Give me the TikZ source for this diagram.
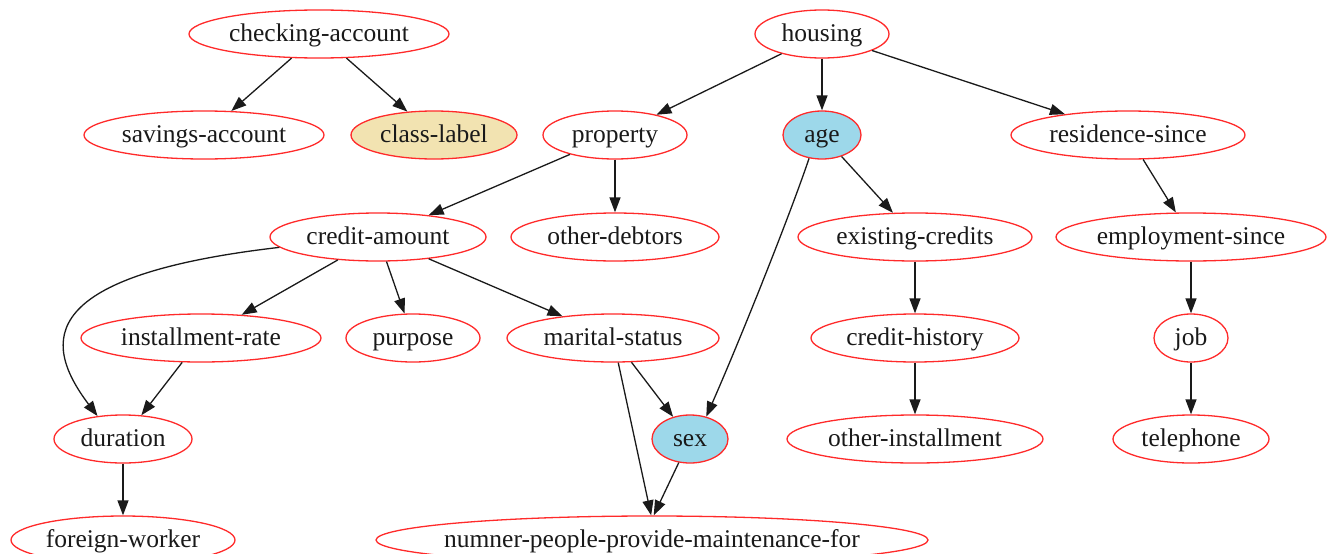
\documentclass[tikz,border=0pt]{standalone}
\usepackage{fontspec}
\setmainfont{Liberation Serif}
\usetikzlibrary{shapes.geometric,arrows.meta}
\definecolor{nodered}{HTML}{FF2A2A}
\definecolor{wheatfill}{HTML}{F2E3B1}
\definecolor{bluefill}{HTML}{9DD8EA}
\definecolor{edgecol}{HTML}{1A1A1A}
\begin{document}
\begin{tikzpicture}[x=1pt,y=-1pt,
  nd/.style={ellipse,draw=nodered,line width=1.3pt,inner sep=0pt,minimum height=48pt,
    text height=17pt,text depth=3pt,
    font=\fontsize{25.5}{29}\selectfont,text=black!90},
  wheatnd/.style={nd,fill=wheatfill},
  bluend/.style={nd,fill=bluefill},
  ed/.style={draw=edgecol,line width=1.3pt,-{Triangle[length=15pt,width=11pt]}}]
\useasboundingbox (0,0) rectangle (1328,554);
\clip (0,0) rectangle (1328,554);
% row 1
\node[nd,minimum width=260pt] (chk) at (319,34) {checking-account};
\node[nd,minimum width=134pt] (hou) at (822,34) {housing};
% row 2
\node[nd,minimum width=240pt] (sav) at (204,135) {savings-account};
\node[wheatnd,minimum width=166pt] (cls) at (434,135) {class-label};
\node[nd,minimum width=144pt] (pro) at (615,135) {property};
\node[bluend,minimum width=78pt] (age) at (822,135) {age};
\node[nd,minimum width=234pt] (res) at (1128,135) {residence-since};
% row 3
\node[nd,minimum width=216pt] (cre) at (378,237) {credit-amount};
\node[nd,minimum width=208pt] (oth) at (615,237) {other-debtors};
\node[nd,minimum width=234pt] (exi) at (915,237) {existing-credits};
\node[nd,minimum width=270pt] (emp) at (1191,237) {employment-since};
% row 4
\node[nd,minimum width=240pt] (ins) at (201,338) {installment-rate};
\node[nd,minimum width=134pt] (pur) at (413,338) {purpose};
\node[nd,minimum width=212pt] (mar) at (613,338) {marital-status};
\node[nd,minimum width=208pt] (his) at (915,338) {credit-history};
\node[nd,minimum width=74pt] (job) at (1191,338) {job};
% row 5
\node[nd,minimum width=138pt] (dur) at (123,439) {duration};
\node[bluend,minimum width=76pt] (sex) at (690,439) {sex};
\node[nd,minimum width=256pt] (oin) at (915,439) {other-installment};
\node[nd,minimum width=156pt] (tel) at (1191,439) {telephone};
% row 6
\node[nd,minimum width=224pt] (for) at (123,540) {foreign-worker};
\node[nd,minimum width=552pt,inner xsep=-13pt] (num) at (652,540) {numner-people-provide-maintenance-for};
% edges
\draw[ed] (chk) -- (sav);
\draw[ed] (chk) -- (cls);
\draw[ed] (hou) -- (pro);
\draw[ed] (hou) -- (age);
\draw[ed] (hou) -- (res);
\draw[ed] (pro) -- (cre);
\draw[ed] (pro) -- (oth);
\draw[ed] (age.241) .. controls (790,215) and (740,340) .. (sex.54);
\draw[ed] (age) -- (exi);
\draw[ed] (res) -- (emp);
\draw[ed] (cre.186) .. controls (40,275) and (40,340) .. (dur.138);
\draw[ed] (cre) -- (ins);
\draw[ed] (cre) -- (pur);
\draw[ed] (cre) -- (mar);
\draw[ed] (ins) -- (dur);
\draw[ed] (mar) -- (sex);
\draw[ed] (mar.282) -- (num.92);
\draw[ed] (sex) -- (num.86);
\draw[ed] (exi) -- (his);
\draw[ed] (his) -- (oin);
\draw[ed] (emp) -- (job);
\draw[ed] (job) -- (tel);
\draw[ed] (dur) -- (for);
\end{tikzpicture}
\end{document}
